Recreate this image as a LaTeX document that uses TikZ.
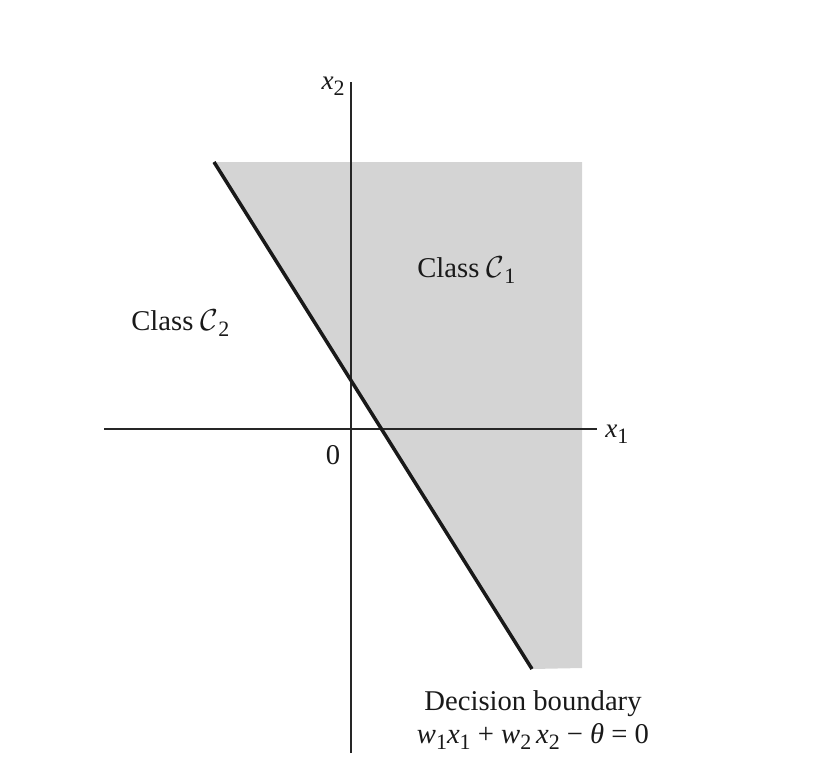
\documentclass[tikz,border=0pt]{standalone}
\usepackage{fontspec}
\setmainfont{Liberation Serif}
\usepackage[mathscr]{eucal}
\usetikzlibrary{positioning, calc}

\newcommand{\lowsub}[1]{\raisebox{-0.5ex}{\fontsize{12.5}{12.5}\selectfont #1}}
\newcommand{\clsname}[1]{Class $\mathcal{C}$\lowsub{#1}}
\newcommand{\ivar}[2]{\textit{#1}\lowsub{#2}}

\begin{document}
\begin{tikzpicture}[
    x=0.02cm, y=-0.02cm,
    font=\fontsize{16.3}{19}\selectfont,
    text=black!90,
    axis/.style={draw=black!85, line width=0.8pt},
    boundary/.style={draw=black!90, line width=2pt},
    region/.style={fill=black!17},
    lbl/.style={inner sep=0pt},
    axlbl/.style={inner sep=0pt, font=\fontsize{15.5}{18}\selectfont}
]
\useasboundingbox (0,0) rectangle (829,782);

% ---- Decision boundary end points and axis ends ----
\coordinate (btop) at (214,162);
\coordinate (bbot) at (532,669);
\coordinate (xleft) at (104,429);
\coordinate (xright) at (597,429);
\coordinate (ytop) at (351,82);
\coordinate (ybot) at (351,753);

% ---- Shaded half-plane (class 1) ----
\fill[region] (btop) -- (582,162) -- (582,668) -- (bbot) -- cycle;

% ---- Axes ----
\draw[axis] (xleft) -- (xright);
\draw[axis] (ybot) -- (ytop);

\node[axlbl, anchor=west] (xone) at ($(xright)+(8,5)$) {\ivar{x}{1}};
\node[axlbl, anchor=east] (xtwo) at ($(ytop)+(-6,4)$) {\ivar{x}{2}};
\node[lbl] (zero) at (333,455) {0};

% ---- Decision boundary ----
\draw[boundary] (btop) -- (bbot);

% ---- Labels ----
\node[lbl, anchor=base west] (classone) at (417,277) {\clsname{1}};
\node[lbl, anchor=base west] (classtwo) at (131,330) {\clsname{2}};
\node[lbl, anchor=base] (boundname) at (533,710) {Decision boundary};
\node[lbl, anchor=base] (boundeq) at (533,743)
    {\ivar{w}{1}\ivar{x}{1} + \ivar{w}{2}\,\ivar{x}{2} − \textit{θ} = 0};

\end{tikzpicture}
\end{document}
